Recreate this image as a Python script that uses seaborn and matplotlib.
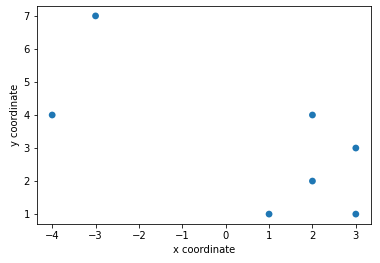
import matplotlib
matplotlib.use("Agg")
import matplotlib.pyplot as plt
import seaborn as sns
import pandas as pd

x_coords = [-4, -3, 1, 2, 2, 3, 3]
y_coords = [4, 7, 1, 4, 2, 3, 1]

df = pd.DataFrame({"x": x_coords, "y": y_coords})

fig = plt.figure(figsize=(380/72, 263/72), dpi=72)
ax = fig.add_axes([37/380, 1-224/263, (371-37)/380, (224-6)/263])
sns.scatterplot(data=df, x="x", y="y", ax=ax, color="#1f77b4", s=46, edgecolor="none")
ax.set_xlabel("x coordinate")
ax.set_ylabel("y coordinate")
ax.set_xticks(range(-4, 4))
ax.set_yticks(range(1, 8))
fig.savefig("out.png", dpi=72)
